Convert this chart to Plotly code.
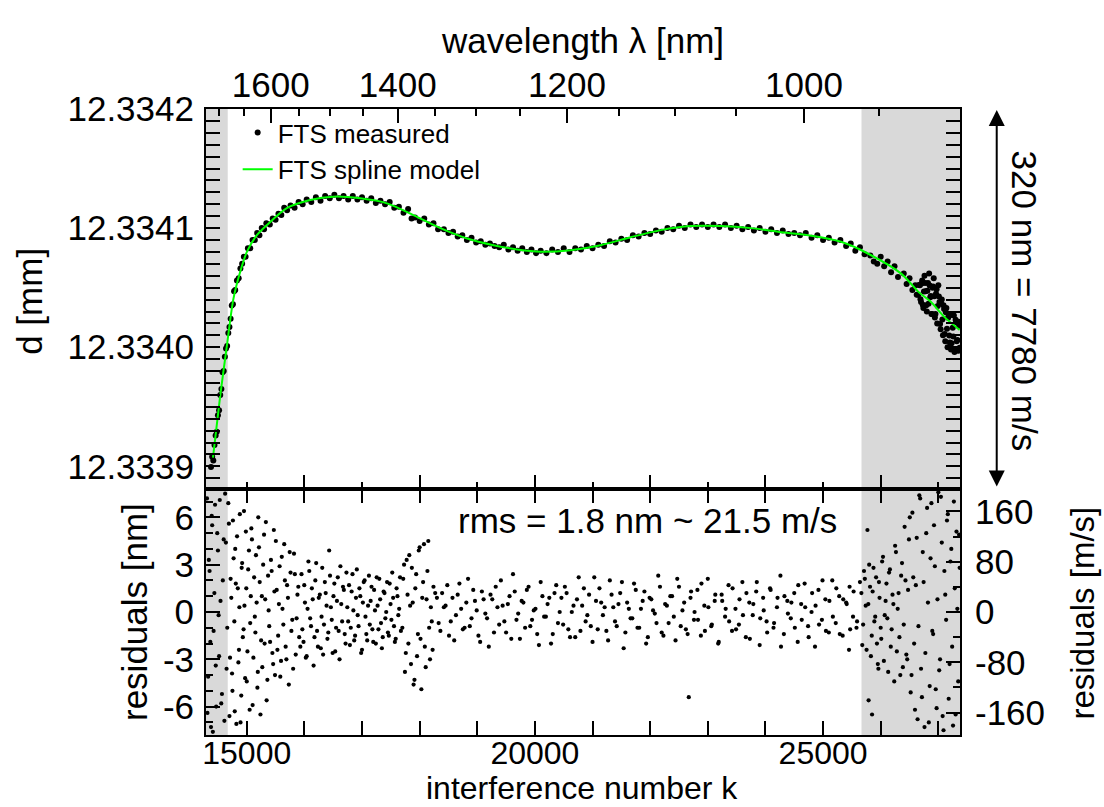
import plotly.graph_objects as go

# ---------------- data ----------------
# spline model: interference number k -> cavity length d [mm]
k_model = [14414, 14536, 14652, 14767, 14884, 15000, 15162, 15348, 15695, 16100,
           16500, 16969, 17434, 17891, 18360, 18824, 19281, 19693, 20098, 20620,
           21141, 21663, 22184, 22706, 23227, 23749, 24270, 24617, 25312, 25777,
           26356, 26646, 26877, 27108, 27370]
d_model = [12.3339073, 12.3339579, 12.3340000, 12.3340402, 12.3340629, 12.3340798,
           12.3340933, 12.3341025, 12.3341168, 12.3341236, 12.3341264, 12.3341250,
           12.3341208, 12.3341109, 12.3341000, 12.3340913, 12.3340857, 12.3340821,
           12.3340802, 12.3340815, 12.3340857, 12.3340924, 12.3340983, 12.3341017,
           12.3341017, 12.3341000, 12.3340966, 12.3340948, 12.3340885, 12.3340787,
           12.3340618, 12.3340469, 12.3340377, 12.3340253, 12.3340145]

# FTS measured points (top panel)
k_meas = [14380, 14400, 14420, 14440, 14460, 14480, 14500, 14520, 14540, 14560,
          14580, 14600, 14620, 14640, 14660, 14680, 14700, 14720, 14740, 14760,
          14780, 14800, 14830, 14860, 14890, 14920, 14950, 14980, 15020, 15060,
          15100, 15140, 15180, 15220, 15260, 15300, 15340, 15400, 15450, 15500,
          15550, 15600, 15650, 15700, 15760, 15830, 15900, 15970, 16040, 16120,
          16200, 16280, 16360, 16440, 16520, 16600, 16680, 16760, 16840, 16920,
          17000, 17080, 17160, 17240, 17320, 17400, 17480, 17560, 17640, 17720,
          17800, 17860, 17920, 18000, 18080, 18160, 18240, 18320, 18420, 18500,
          18580, 18660, 18740, 18820, 18900, 18980, 19060, 19140, 19220, 19300,
          19380, 19460, 19540, 19620, 19700, 19780, 19860, 19940, 20020, 20100,
          20200, 20300, 20400, 20500, 20600, 20700, 20800, 20900, 21000, 21100,
          21200, 21300, 21400, 21500, 21600, 21700, 21800, 21900, 22000, 22100,
          22200, 22300, 22400, 22500, 22600, 22700, 22800, 22900, 23000, 23100,
          23200, 23300, 23400, 23500, 23600, 23700, 23800, 23900, 24000, 24100,
          24200, 24300, 24400, 24500, 24600, 24700, 24800, 24900, 25000, 25100,
          25200, 25300, 25400, 25480, 25560, 25640, 25720, 25820, 25880, 25940,
          26000, 26060, 26120, 26180, 26240, 26300, 26400, 26450, 26500, 26550,
          26600, 26650, 26680, 26700, 26720, 26740, 26760, 26780, 26800, 26820,
          26840, 26860, 26880, 26900, 26920, 26940, 26960, 26980, 27000, 27020,
          27040, 27060, 27080, 27100, 27120, 27140, 27160, 27180, 27200, 27220,
          27240, 27260, 27280, 27300, 27320, 27340, 27360]
d_meas = [12.3338995, 12.3339080, 12.3339050, 12.3339180, 12.3339260, 12.3339290,
          12.3339430, 12.3339470, 12.3339600, 12.3339650, 12.3339790, 12.3339800,
          12.3339920, 12.3339990, 12.3340010, 12.3340120, 12.3340170, 12.3340240,
          12.3340350, 12.3340360, 12.3340470, 12.3340480, 12.3340560, 12.3340580,
          12.3340660, 12.3340700, 12.3340760, 12.3340760, 12.3340830, 12.3340830,
          12.3340900, 12.3340900, 12.3340960, 12.3340940, 12.3341000, 12.3340990,
          12.3341040, 12.3341030, 12.3341080, 12.3341070, 12.3341120, 12.3341110,
          12.3341170, 12.3341150, 12.3341190, 12.3341170, 12.3341220, 12.3341200,
          12.3341240, 12.3341220, 12.3341260, 12.3341230, 12.3341270, 12.3341250,
          12.3341280, 12.3341250, 12.3341270, 12.3341240, 12.3341270, 12.3341240,
          12.3341260, 12.3341230, 12.3341250, 12.3341210, 12.3341230, 12.3341200,
          12.3341220, 12.3341170, 12.3341180, 12.3341130, 12.3341160, 12.3341080,
          12.3341090, 12.3341060, 12.3341080, 12.3341030, 12.3341040, 12.3340990,
          12.3340990, 12.3340960, 12.3340970, 12.3340930, 12.3340940, 12.3340900,
          12.3340920, 12.3340880, 12.3340890, 12.3340860, 12.3340870, 12.3340850,
          12.3340840, 12.3340860, 12.3340820, 12.3340840, 12.3340810, 12.3340830,
          12.3340800, 12.3340820, 12.3340790, 12.3340810, 12.3340790, 12.3340820,
          12.3340800, 12.3340830, 12.3340800, 12.3340830, 12.3340820, 12.3340850,
          12.3340830, 12.3340860, 12.3340850, 12.3340890, 12.3340880, 12.3340910,
          12.3340900, 12.3340940, 12.3340930, 12.3340960, 12.3340950, 12.3340980,
          12.3340970, 12.3341000, 12.3340990, 12.3341020, 12.3341000, 12.3341030,
          12.3341010, 12.3341030, 12.3341010, 12.3341030, 12.3341010, 12.3341030,
          12.3341000, 12.3341020, 12.3340990, 12.3341010, 12.3340980, 12.3341000,
          12.3340970, 12.3340990, 12.3340960, 12.3340980, 12.3340950, 12.3340960,
          12.3340940, 12.3340960, 12.3340920, 12.3340940, 12.3340900, 12.3340920,
          12.3340880, 12.3340900, 12.3340850, 12.3340870, 12.3340810, 12.3340840,
          12.3340780, 12.3340770, 12.3340720, 12.3340700, 12.3340760, 12.3340680,
          12.3340720, 12.3340630, 12.3340680, 12.3340590, 12.3340620, 12.3340530,
          12.3340580, 12.3340480, 12.3340520, 12.3340440, 12.3340520, 12.3340380,
          12.3340560, 12.3340330, 12.3340600, 12.3340470, 12.3340300, 12.3340540,
          12.3340620, 12.3340420, 12.3340280, 12.3340500, 12.3340580, 12.3340250,
          12.3340450, 12.3340200, 12.3340520, 12.3340380, 12.3340150, 12.3340400,
          12.3340100, 12.3340320, 12.3340050, 12.3340330, 12.3340000, 12.3340260,
          12.3340040, 12.3339980, 12.3340280, 12.3340090, 12.3339960, 12.3340230,
          12.3340050, 12.3339970, 12.3340180]
# extra measured points in the scattered right-hand cluster
k_meas_r = [26625, 26660, 26690, 26710, 26730, 26750, 26770, 26790, 26810, 26830,
            26850, 26870, 26890, 26910, 26930, 26950, 26970, 26990, 27010, 27030,
            27050, 27070, 27090, 27110, 27130, 27150, 27170, 27190, 27210, 27230,
            27250, 27270, 27290, 27310, 27330, 27350, 27370]
d_meas_r = [12.3340440, 12.3340523, 12.3340402, 12.3340534, 12.3340356, 12.3340468,
            12.3340540, 12.3340352, 12.3340474, 12.3340366, 12.3340518, 12.3340430,
            12.3340280, 12.3340509, 12.3340428, 12.3340278, 12.3340487, 12.3340346,
            12.3340425, 12.3340195, 12.3340364, 12.3340233, 12.3340353, 12.3340112,
            12.3340294, 12.3340156, 12.3340247, 12.3340099, 12.3340271, 12.3340033,
            12.3340164, 12.3340266, 12.3339978, 12.3340210, 12.3340061, 12.3340213,
            12.3339995]

# residuals [nm] (bottom panel), by region of k
res_k_a = [14310, 14330, 14355, 14380, 14400, 14425, 14450, 14470, 14500, 14520,
           14545, 14570, 14600, 14625, 14650,
           14680, 14700, 14720, 14745, 14760, 14785, 14800, 14820, 14845, 14865,
           14880, 14905, 14920, 14945, 14960, 14985, 15000, 15025, 15050, 15070,
           15090, 15115, 15140, 15160, 15185, 15200, 15225, 15250, 15270, 15300,
           15320, 15345, 15370, 15390, 15420, 15445, 15470, 15490, 15520, 15545,
           15570, 15595, 15620, 15650, 15675, 15700, 15730, 15760, 15790, 15820,
           15850, 15880, 15910]
res_nm_a = [7.2, -4.1, 2.6, -7.3, 5.5, -1.2, 6.8, -6.0, 3.9, -2.8,
            0.7, -5.2, 4.6, 7.5, -3.6,
            6.9, -6.6, 2.1, -3.9, 5.8, -0.6, 4.0, -7.1, 1.5, -2.4,
            6.2, -5.3, 3.1, -1.1, 0.4, 5.1, -4.4, 2.7, -6.2, 1.0,
            4.6, -2.9, -0.3, 3.6, -4.8, 6.0, 1.9, -1.8, -3.5, 4.9,
            0.8, -5.6, 2.3, -0.9, 3.3, -2.6, 5.2, -4.0, 1.4, -1.5,
            2.9, -3.1, 0.2, 4.3, -2.2, 1.7, -4.6, 2.5, -0.5, 3.7,
            -2.7, 1.1, -1.6]
res_k_f = [14318, 14342, 14368, 14392, 14412, 14438, 14462, 14488, 14512, 14532,
           14558, 14585, 14612, 14638, 14662,
           14690, 14710, 14732, 14752, 14772, 14792, 14810, 14832, 14855, 14872,
           14892, 14912, 14932, 14952, 14972, 14992, 15012, 15038, 15060, 15080,
           15102, 15128, 15150, 15172, 15192, 15212, 15238, 15262, 15285, 15310,
           15332, 15358, 15380, 15405, 15432, 15458, 15480, 15505, 15532, 15558,
           15582, 15608, 15635, 15662, 15688, 15715, 15745, 15775, 15805, 15835,
           15865, 15895, 15930]
res_nm_f = [-6.4, 3.3, -1.9, 6.1, -7.6, 1.2, -3.4, 5.0, -0.2, 7.1,
            -5.8, 2.0, -6.9, 4.4, -1.0,
            5.6, -2.9, 0.9, -5.0, 3.4, -6.3, 1.8, 4.8, -3.2, 0.3,
            -7.0, 2.8, -1.6, 6.4, -4.2, 1.5, -2.5, 3.9, -0.7, 5.3,
            -5.9, 2.2, -1.3, 0.6, -3.8, 4.1, -6.5, 1.0, 3.0, -2.0,
            5.7, -4.3, 0.1, -1.9, 2.6, -3.3, 1.3, 4.5, -2.4, 0.5,
            -4.1, 3.5, -0.8, 2.0, -3.0, 0.9, 3.8, -1.2, -3.6, 2.4,
            -0.4, 1.6, -2.2]
res_k_b = [15950, 15985, 16010, 16040, 16070, 16100, 16130, 16160, 16190, 16220,
           16250, 16285, 16310, 16340, 16370, 16400, 16430, 16460, 16490, 16520,
           16550, 16580, 16610, 16640, 16670, 16700, 16730, 16760, 16790, 16820,
           16850, 16880, 16910, 16940, 16970, 17000, 17030, 17060, 17090, 17120,
           17150, 17180, 17210, 17240, 17270, 17300, 17330, 17360, 17390, 17420,
           17450, 17480, 17510, 17540, 17570, 17600, 17630, 17660,
           17700, 17730, 17760, 17790, 17820, 17850, 17880, 17910, 17940, 17970,
           18000, 18030, 18060, 18090, 18120, 18150, 18180, 18210, 18240]
res_nm_b = [2.4, -1.9, 0.6, -2.8, 3.2, -0.4, 1.5, -3.4, 2.0, -1.2,
            0.9, -2.3, 2.8, -0.8, 1.2, -1.7, 3.9, 0.3, -2.6, 1.8,
            -1.0, 2.2, -3.0, 0.5, 1.6, -1.4, 2.5, -0.6, -2.1, 1.3,
            0.1, -1.5, 2.7, -0.9, 1.0, -2.4, 1.9, -0.3, -1.8, 2.3,
            0.7, -1.1, 1.4, -2.0, 0.4, 2.1, -0.7, -1.6, 1.2, 0.0,
            -1.3, 1.8, -0.5, 0.9, -1.9, 1.5, -0.2, 2.2,
            -1.0, 3.0, -2.6, 1.1, 3.6, -3.3, 0.6, -4.3, 2.4, -1.4,
            4.1, -4.9, 1.9, -2.2, 0.8, 4.5, -3.0, -0.6, 1.6]
res_k_g = [15965, 15998, 16025, 16055, 16085, 16115, 16145, 16175, 16205, 16235,
           16268, 16298, 16325, 16355, 16385, 16415, 16445, 16475, 16505, 16535,
           16565, 16595, 16625, 16655, 16685, 16715, 16745, 16775, 16805, 16835,
           16865, 16895, 16925, 16955, 16985, 17015, 17045, 17075, 17105, 17135,
           17165, 17195, 17225, 17255, 17285, 17315, 17345, 17375, 17405, 17435,
           17465, 17495, 17525, 17555, 17585, 17615, 17645, 17675,
           17715, 17745, 17775, 17805, 17835, 17865, 17895, 17925, 17955, 17985,
           18015, 18045, 18075, 18105, 18135, 18165, 18195, 18225, 18270]
res_nm_g = [-1.1, 1.7, -2.9, 0.2, 2.6, -0.9, 0.8, -1.6, 3.1, -2.2,
            1.1, -0.3, -2.7, 1.9, 0.4, -1.3, 2.3, -0.5, 1.0, -2.5,
            0.7, -1.2, 2.9, -0.6, 1.4, -2.0, 0.3, 1.7, -1.0, 2.4,
            -1.8, 0.9, -0.2, 1.5, -2.6, 0.6, 2.0, -1.4, 0.4, -0.8,
            1.6, -1.9, 0.1, 2.2, -1.1, 0.8, -2.3, 1.3, -0.4, 1.9,
            -1.5, 0.5, 2.5, -0.9, -1.7, 1.0, 0.2, -1.2,
            2.1, -3.8, 3.3, -2.0, 0.4, 2.8, -4.6, 1.5, -2.8, 3.9,
            -1.7, 0.9, 4.3, -3.5, 2.6, -1.0, 0.3, -2.4, 1.2]
res_k_c = [18300, 18360, 18420, 18480, 18540, 18600, 18660, 18720, 18780, 18840,
           18900, 18960, 19020, 19080, 19140, 19200, 19260, 19320, 19380, 19440,
           19500, 19560, 19620, 19680, 19740, 19800, 19860, 19920, 19980, 20040,
           20100, 20160, 20220, 20280, 20340, 20400, 20460, 20520, 20580, 20640,
           20700, 20760, 20820, 20880, 20940, 21000, 21060, 21120, 21180, 21240,
           21300, 21360, 21420, 21480, 21540, 21600, 21660, 21720, 21780, 21840,
           21900, 21960, 22020, 22080, 22140, 22200, 22260, 22320, 22380, 22440,
           22500, 22560, 22620, 22670, 22700, 22760, 22820, 22880, 22940, 23000,
           23060, 23120, 23180, 23240, 23300, 23360, 23420, 23480, 23540, 23600,
           23660, 23720, 23780, 23840, 23900, 23960, 24020, 24080, 24140, 24200,
           24260, 24320, 24380, 24440, 24500, 24560, 24620, 24680, 24740, 24800,
           24860, 24920, 24980, 25040, 25100, 25160, 25220, 25280, 25340, 25400,
           25450, 25460, 25520, 25580, 25640]
res_nm_c = [0.9, -1.2, 0.3, 1.7, -0.6, -1.8, 1.1, 0.2, -1.0, 2.1,
            -0.4, 0.7, -1.5, 1.3, -0.1, -2.2, 0.8, 1.6, -0.8, 0.4,
            -1.3, 1.0, 2.4, -0.5, -1.7, 0.6, 1.4, -0.9, 0.1, -1.4,
            1.9, -0.3, 0.5, -2.0, 1.2, -0.7, 0.9, 1.6, -1.1, 0.0,
            -1.6, 2.2, 0.4, -0.6, 1.1, -1.9, 0.7, 1.5, -0.2, -1.2,
            2.0, 0.3, -0.9, 1.2, -2.3, 0.6, -0.4, 1.8, -1.0, 0.2,
            1.3, -1.6, 0.8, -0.1, 2.3, -1.3, 0.5, -0.7, 1.0, -1.8,
            1.6, 0.1, -1.1, -5.4, 0.9, -0.5, 1.4, -1.5, 0.4, 2.1,
            -0.9, 0.7, -2.0, 1.1, -0.3, 1.7, -1.2, 0.2, -0.8, 1.9,
            -1.6, 0.6, -0.2, 1.3, -2.1, 0.9, -0.6, 1.5, -1.0, 0.3,
            2.3, -1.4, 0.7, -0.4, 1.2, -1.9, 0.5, 1.8, -0.9, 0.0,
            -2.2, 1.4, -0.5, 0.8, -1.3, 2.0, -0.7, 1.0, -1.5, 0.6,
            -2.4, 1.6, -0.3, -1.0, 1.9]
res_k_d = [18330, 18390, 18450, 18510, 18570, 18630, 18690, 18750, 18810, 18870,
           18930, 18990, 19050, 19110, 19170, 19230, 19290, 19350, 19410, 19470,
           19530, 19590, 19650, 19710, 19770, 19830, 19890, 19950, 20010, 20070,
           20130, 20190, 20250, 20310, 20370, 20430, 20490, 20550, 20610, 20670,
           20730, 20790, 20850, 20910, 20970, 21030, 21090, 21150, 21210, 21270,
           21330, 21390, 21450, 21510, 21570, 21630, 21690, 21750, 21810, 21870,
           21930, 21990, 22050, 22110, 22170, 22230, 22290, 22350, 22410, 22470,
           22530, 22590, 22650, 22710, 22770, 22830, 22890, 22950, 23010, 23070,
           23130, 23190, 23250, 23310, 23370, 23430, 23490, 23550, 23610, 23670,
           23730, 23790, 23850, 23910, 23970, 24030, 24090, 24150, 24210, 24270,
           24330, 24390, 24450, 24510, 24570, 24630, 24690, 24750, 24810, 24870,
           24930, 24990, 25050, 25110, 25170, 25230, 25290, 25350, 25410, 25470,
           25530, 25590]
res_nm_d = [-0.7, 1.2, 0.4, -1.5, 0.9, -0.2, 1.8, -1.1, 0.6, -0.9,
            1.4, 0.1, -1.9, 0.8, -0.4, 1.1, -1.3, 0.3, 2.0, -0.6,
            0.5, -1.7, 1.3, -0.1, 0.7, -1.0, 1.6, -0.5, 0.2, -2.1,
            1.0, -0.3, 0.9, -1.4, 1.7, 0.0, -0.8, 1.2, -1.6, 0.4,
            0.8, -1.2, 1.5, -0.2, -0.9, 2.2, -1.1, 0.6, 0.3, -1.8,
            1.1, -0.6, 0.5, 1.9, -1.3, 0.2, -0.4, 1.4, -1.0, 0.7,
            -2.0, 0.9, 0.1, -0.7, 1.6, -1.5, 0.4, 1.0, -0.3, 2.1,
            -0.9, 0.6, -1.4, 1.3, 0.0, -0.5, 1.8, -1.2, 0.3, -0.8,
            1.1, -1.9, 0.7, 0.2, -0.6, 1.5, -1.1, 0.8, -0.2, 1.2,
            -1.7, 0.5, 1.9, -0.4, 0.1, -1.3, 1.4, -0.7, 0.9, -2.2,
            1.0, -0.1, 0.6, -1.0, 1.7, -0.5, 0.3, -1.6, 1.2, 0.4,
            -0.8, 2.0, -1.2, 0.7, -0.3, 1.5, -1.4, 0.8, 0.5, -1.1,
            1.3, -0.6]
res_k_e = [25680, 25710, 25740, 25770, 25790, 25800, 25830, 25850, 25860, 25890,
           25920, 25950, 25960, 25980, 26010, 26040, 26070, 26100, 26130, 26160,
           26190, 26220, 26250, 26280, 26310, 26340, 26370, 26400, 26430, 26460,
           26490,
           26520, 26550, 26580, 26610, 26640, 26670, 26700, 26730, 26760, 26790,
           26820, 26850, 26880, 26910, 26940, 26970, 27000, 27030, 27060, 27090,
           27120, 27150, 27180, 27210, 27240, 27270, 27300, 27330, 27360]
res_nm_e = [-2.1, 2.6, 0.4, 5.2, -5.6, 3.0, -2.8, -6.5, 1.3, -0.6,
            2.2, -3.3, -3.6, 0.9, -1.7, 3.5, -0.2, 1.8, -3.8, 2.7,
            -1.1, 0.5, 4.2, -2.5, 1.2, -4.0, 3.1, -0.8, 2.0, -3.0,
            4.6,
            -5.1, 6.3, -2.0, 1.7, -6.8, 7.4, -3.6, 3.8, -7.3, 5.0,
            0.6, -4.7, 6.9, -1.4, 2.9, -6.1, 7.6, -3.0, 4.4, -7.5,
            1.1, 5.8, -5.5, 3.2, -2.2, 7.0, -6.5, 0.2, 4.9]
res_k_h = [25665, 25695, 25725, 25755, 25785, 25815, 25845, 25875, 25905, 25935,
           25970, 26000, 26025, 26055, 26085, 26115, 26145, 26175, 26205, 26235,
           26265, 26295, 26325, 26355, 26385, 26415, 26445, 26475, 26505, 26535,
           26565, 26595, 26625, 26655, 26685, 26715, 26745, 26775, 26805, 26835,
           26865, 26895, 26925, 26955, 26985, 27015, 27045, 27075, 27105, 27135,
           27165, 27195, 27225, 27255, 27285, 27315, 27345, 27370]
res_nm_h = [1.2, -0.8, 2.1, -2.4, 0.5, 1.6, -1.5, 2.8, -0.3, -2.0,
            1.9, -1.0, 3.2, -3.1, 0.7, -0.4, 2.5, -2.2, 1.1, -4.4,
            3.8, 0.2, -1.6, 2.3, -3.5, 5.4, -2.7, 1.4, 6.0, -4.0,
            2.2, -6.2, 4.7, -0.9, 7.2, -5.4, 1.9, -2.6, 6.6, -7.0,
            3.4, -1.2, 5.5, -4.9, 0.8, -3.7, 7.3, -6.6, 2.6, -0.5,
            6.2, -3.3, 4.0, -7.2, 1.5, 5.1, -4.4, 2.8]

# axis ticks
k_ticks = [15000, 20000, 25000]
k_tick_text = ["15000", "20000", "25000"]
d_ticks = [12.3339, 12.3340, 12.3341, 12.3342]
d_tick_text = ["12.3339", "12.3340", "12.3341", "12.3342"]
res_ticks = [-6, -3, 0, 3, 6]
res_tick_text = ["-6", "-3", "0", "3", "6"]
vel_ticks = [-160, -80, 0, 80, 160]
vel_tick_text = ["-160", "-80", "0", "80", "160"]
wl_major_nm = [1600, 1400, 1200, 1000]
wl_minor_nm = [1700, 1650, 1550, 1500, 1450, 1350, 1300, 1250, 1150, 1100, 1050, 950]
two_d_nm = 2 * 12.3341e6          # k = 2 d / lambda  (top axis conversion)

shade_left = [14293, 14670]
shade_right = [25667, 27376]
k_range = [14293, 27376]
d_range = [12.333881, 12.3342]
res_range = [-7.8, 7.8]
vel_range = [-195.6, 195.6]

# ---------------- figure ----------------
FONT = "Liberation Sans, Arial, Helvetica, sans-serif"
res_k = res_k_a + res_k_f + res_k_b + res_k_g + res_k_c + res_k_d + res_k_e + res_k_h
res_nm = res_nm_a + res_nm_f + res_nm_b + res_nm_g + res_nm_c + res_nm_d + res_nm_e + res_nm_h
wl_tick_k = [two_d_nm / w for w in wl_major_nm]
wl_minor_k = [two_d_nm / w for w in wl_minor_nm]

fig = go.Figure()
fig.add_trace(go.Scatter(x=k_meas + k_meas_r, y=d_meas + d_meas_r, mode="markers",
                         name="FTS measured",
                         marker=dict(color="black", size=6), xaxis="x2", yaxis="y2"))
fig.add_trace(go.Scatter(x=k_model, y=d_model, mode="lines", name="FTS spline model",
                         line=dict(color="#00ff00", width=2, shape="spline", smoothing=0.8),
                         xaxis="x2", yaxis="y2"))
fig.add_trace(go.Scatter(x=res_k, y=res_nm, mode="markers", showlegend=False,
                         marker=dict(color="black", size=4.2), xaxis="x", yaxis="y"))
# carriers for the secondary axes (invisible)
fig.add_trace(go.Scatter(x=[k_range[0]], y=[d_range[0]], mode="markers", showlegend=False,
                         marker=dict(opacity=0), hoverinfo="skip", xaxis="x3", yaxis="y2"))
fig.add_trace(go.Scatter(x=[k_range[0]], y=[0], mode="markers", showlegend=False,
                         marker=dict(opacity=0), hoverinfo="skip", xaxis="x", yaxis="y3"))

split = 0.393
common = dict(showgrid=False, zeroline=False, showline=True, linecolor="black",
              linewidth=2, ticks="inside", ticklen=14, tickwidth=2, tickcolor="black",
              tickfont=dict(family=FONT, size=35, color="black"))
minor_k = dict(ticks="inside", dtick=1000, tick0=0, ticklen=7, tickwidth=2, tickcolor="black")

fig.update_layout(
    width=1104, height=807,
    margin=dict(l=206, r=144, t=109, b=72),
    paper_bgcolor="white", plot_bgcolor="white",
    font=dict(family=FONT, color="black"),
    xaxis=dict(domain=[0, 1], anchor="y", range=k_range, tickvals=k_ticks,
               ticktext=k_tick_text, mirror="allticks", ticklabelstandoff=-11,
               minor=minor_k, **{**common, "tickfont": dict(family=FONT, size=32, color="black")}),
    xaxis2=dict(domain=[0, 1], anchor="y2", range=k_range, matches="x",
                showticklabels=False, mirror=True, minor=minor_k, **common),
    xaxis3=dict(overlaying="x2", anchor="y2", side="top", range=k_range,
                tickmode="array", tickvals=wl_tick_k, ticktext=[str(w) for w in wl_major_nm],
                ticklabelstandoff=4,
                minor=dict(ticks="inside", tickmode="array", tickvals=wl_minor_k, ticklen=7,
                           tickwidth=2, tickcolor="black"),
                **{**common, "showline": False}),
    yaxis=dict(domain=[0, split], anchor="x", range=res_range, tickvals=res_ticks,
               ticktext=res_tick_text, mirror=True, ticklabelstandoff=3,
               minor=dict(ticks="inside", dtick=1, tick0=0, ticklen=7, tickwidth=2,
                          tickcolor="black"), **common),
    yaxis3=dict(overlaying="y", anchor="x", side="right", range=vel_range,
                tickvals=vel_ticks, ticktext=vel_tick_text, ticklabelstandoff=14,
                minor=dict(ticks="inside", dtick=40, tick0=0, ticklen=7, tickwidth=2,
                           tickcolor="black"), **{**common, "showline": False}),
    yaxis2=dict(domain=[split, 1], anchor="x2", range=d_range, tickvals=d_ticks,
                ticktext=d_tick_text, mirror="allticks", ticklabelstandoff=3,
                minor=dict(ticks="inside", dtick=0.00001, tick0=12.3339, ticklen=7,
                           tickwidth=2, tickcolor="black"), **common),
    legend=dict(x=0.042, y=1.0, xanchor="left", yanchor="top", bgcolor="rgba(0,0,0,0)",
                font=dict(family=FONT, size=26, color="black"), itemwidth=30),
    showlegend=True,
)

fig.add_shape(type="rect", xref="x", yref="paper", x0=k_range[0], x1=shade_left[1],
              y0=0, y1=1, fillcolor="#d9d9d9", line=dict(width=0), layer="below")
fig.add_shape(type="rect", xref="x", yref="paper", x0=shade_right[0], x1=k_range[1],
              y0=0, y1=1, fillcolor="#d9d9d9", line=dict(width=0), layer="below")

TITLE = dict(family=FONT, size=35, color="black")
anns = [
    dict(text="d [mm]", x=-0.2334, y=0.692, textangle=-90),
    dict(text="residuals [nm]", x=-0.0948, y=0.1957, textangle=-90),
    dict(text="residuals [m/s]", x=1.1631, y=0.1957, textangle=-90, font=dict(family=FONT, size=33, color="black")),
    dict(text="wavelength λ [nm]", x=0.4993, y=1.110, textangle=0),
    dict(text="interference number k", x=0.4993, y=-0.0845, textangle=0, font=dict(family=FONT, size=32, color="black")),
    dict(text="rms = 1.8 nm ~ 21.5 m/s", x=0.5862, y=0.342, textangle=0),
    dict(text="320 nm = 7780 m/s", x=1.0849, y=0.694, textangle=90),
]
for a in anns:
    a.setdefault("font", TITLE)
    fig.add_annotation(xref="paper", yref="paper", showarrow=False, xanchor="center",
                       yanchor="middle", **a)

# double-headed arrow spanning the top panel height
fig.add_annotation(xref="paper", yref="paper", x=1.0487, y=0.9984, ax=0, ay=378, text="",
                   showarrow=True, arrowside="end+start", arrowhead=2, startarrowhead=2,
                   arrowsize=1.6, startarrowsize=1.6, arrowwidth=2, arrowcolor="black",
                   standoff=0, startstandoff=0)

fig.write_html("out.html")
